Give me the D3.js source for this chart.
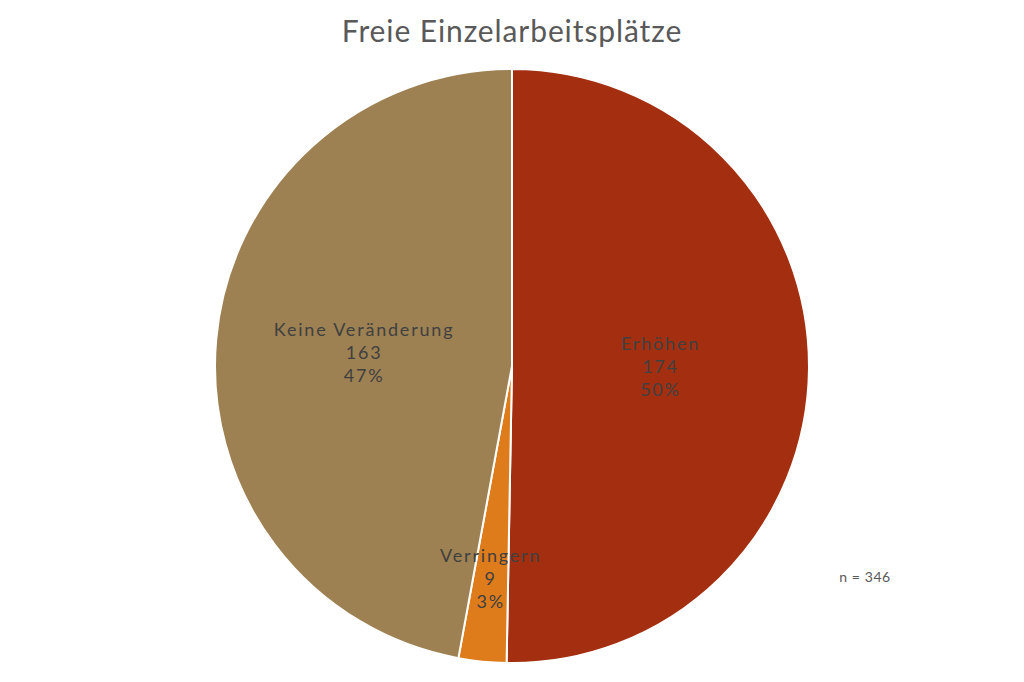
<!DOCTYPE html>
<html>
<head>
<meta charset="utf-8">
<script src="https://cdn.jsdelivr.net/npm/d3@7"></script>
<style>
  body { margin: 0; background: #fff; }
  text { font-family: "Lato", "Noto Sans", sans-serif; }
</style>
</head>
<body>
<div id="container"></div>
<script>
var categories = ["Erhöhen", "Verringern", "Keine Veränderung"];
var counts = [174, 9, 163];
var colors = ["#A32F10", "#DE7B1B", "#9E8152"];

var width = 1024,
    height = 682,
    radius = 297;

var total = d3.sum(counts);
var data = categories.map(function(c, i) {
  return { name: c, value: counts[i], color: colors[i] };
});

var svg = d3.select("#container")
  .append("svg")
  .attr("width", width)
  .attr("height", height);

svg.append("text")
  .attr("x", 512)
  .attr("y", 42)
  .attr("text-anchor", "middle")
  .style("font-size", "30px")
  .style("letter-spacing", "0.9px")
  .style("fill", "#595959")
  .text("Freie Einzelarbeitsplätze");

var g = svg.append("g")
  .attr("transform", "translate(512,366)");

var pie = d3.pie()
  .sort(null)
  .value(function(d) { return d.value; });

var arc = d3.arc()
  .innerRadius(0)
  .outerRadius(radius);

var arcs = pie(data);

g.selectAll("path")
  .data(arcs)
  .enter()
  .append("path")
  .attr("d", arc)
  .style("fill", function(d) { return d.data.color; })
  .style("stroke", "#fff")
  .style("stroke-width", 2);

// kleine Segmente -> Label weiter aussen
function labelPos(d) {
  var r = d.data.value / total < 0.05 ? radius * 0.72 : radius * 0.5;
  return d3.arc().innerRadius(r).outerRadius(r).centroid(d);
}

var pct = d3.format(".0%");
var labels = g.selectAll("text.lbl")
  .data(arcs)
  .enter()
  .append("text")
  .attr("class", "lbl")
  .attr("text-anchor", "middle")
  .attr("transform", function(d) { return "translate(" + labelPos(d) + ")"; })
  .style("font-size", "18px")
  .style("letter-spacing", "1.8px")
  .style("fill", "#404040");

labels.selectAll("tspan")
  .data(function(d) { return [d.data.name, d.data.value, pct(d.data.value / total)]; })
  .enter()
  .append("tspan")
  .attr("x", 0)
  .attr("y", function(t, i) { return (i - 1) * 23 + 6; })
  .text(function(t) { return t; });

svg.append("text")
  .attr("x", 865)
  .attr("y", 582)
  .attr("text-anchor", "middle")
  .style("font-size", "14px")
  .style("letter-spacing", "0.6px")
  .style("fill", "#595959")
  .text("n = " + total);
</script>
</body>
</html>
